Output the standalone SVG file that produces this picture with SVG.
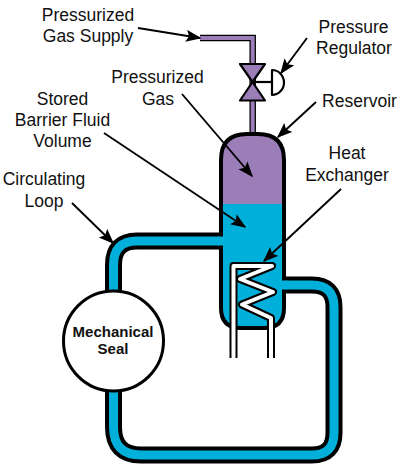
<svg xmlns="http://www.w3.org/2000/svg" width="400" height="467" viewBox="0 0 400 467">
<defs>
<marker id="ah" markerUnits="userSpaceOnUse" markerWidth="18" markerHeight="14" refX="14" refY="6" orient="auto"><path d="M0 0L15.500 6L0 12L3 6Z" fill="#000"/></marker>
</defs>
<style>
text{font-family:"Liberation Sans",Arial,sans-serif;font-size:17.500px;fill:#111;text-anchor:middle}
.b{font-weight:bold;font-size:15px}
.l{fill:none;stroke:#000;stroke-width:1.900;marker-end:url(#ah)}
</style>
<rect width="400" height="467" fill="#fff"/>
<g id="loop" fill="none">
<path d="M222 241H137Q113.500 241 113.500 265V427Q113.500 455 141 455H312Q334 455 334 433V307Q334 285 312 285H284" stroke="#000" stroke-width="17"/>
<path d="M224 241H137Q113.500 241 113.500 265V427Q113.500 455 141 455H312Q334 455 334 433V307Q334 285 312 285H282" stroke="#00b0da" stroke-width="9"/>
</g>
<g id="gas-line" fill="none">
<path d="M200 38H252.700V134" stroke="#000" stroke-width="6.500"/>
<path d="M200 38H252.700V136" stroke="#9b7db8" stroke-width="4"/>
</g>
<g id="reservoir">
<path d="M221 204V160Q221 134 247 134H258Q284 134 284 160V204Z" fill="#9b7db8"/>
<path d="M221 204H284V308Q284 328 264 328H241Q221 328 221 308Z" fill="#00b0da"/>
<path d="M221 160Q221 134 247 134H258Q284 134 284 160V308Q284 328 264 328H241Q221 328 221 308Z" fill="none" stroke="#000" stroke-width="4"/>
<path d="M218 241H225M280 285H287" stroke="#00b0da" stroke-width="9"/>
</g>
<g id="heat-exchanger" fill="none" stroke-linejoin="round">
<path d="M233.500 358V266H272L240 279L273 292L242 304.500L271 318V358" stroke="#000" stroke-width="8"/>
<path d="M233.500 358V266H272L240 279L273 292L242 304.500L271 318V358" stroke="#fff" stroke-width="4"/>
</g>
<g id="valve" fill="#9b7db8" stroke="#000" stroke-width="2.200" stroke-linejoin="round">
<path d="M240 64H265L252.500 82Z"/>
<path d="M240 100.500H265L252.500 82Z"/>
<path d="M253 82H272" fill="none"/>
<path d="M272 70A12 12.500 0 0 1 272 95Z" fill="#fff"/>
</g>
<g id="seal">
<circle cx="113.500" cy="341" r="50" fill="#fff" stroke="#000" stroke-width="3"/>
<text class="b" x="113" y="337">Mechanical</text>
<text class="b" x="113" y="354">Seal</text>
</g>
<g id="connectors">
<path class="l" d="M138 28L200 38"/>
<path class="l" d="M307 38L281 73"/>
<path class="l" d="M316 102L278 137"/>
<path class="l" d="M182 94L252 176"/>
<path class="l" d="M104 133L245 227"/>
<path class="l" d="M72 203L113 243"/>
<path class="l" d="M341 189L264 261"/>
</g>
<g id="labels">
<text x="88" y="21">Pressurized</text>
<text x="88" y="42">Gas Supply</text>
<text x="353.500" y="33">Pressure</text>
<text x="354" y="54">Regulator</text>
<text x="157.500" y="83">Pressurized</text>
<text x="158" y="105">Gas</text>
<text x="359.500" y="107">Reservoir</text>
<text x="62.500" y="105">Stored</text>
<text x="62.500" y="126">Barrier Fluid</text>
<text x="62.500" y="147">Volume</text>
<text x="347" y="159">Heat</text>
<text x="347" y="181">Exchanger</text>
<text x="44" y="185">Circulating</text>
<text x="44" y="207">Loop</text>
</g>
</svg>
